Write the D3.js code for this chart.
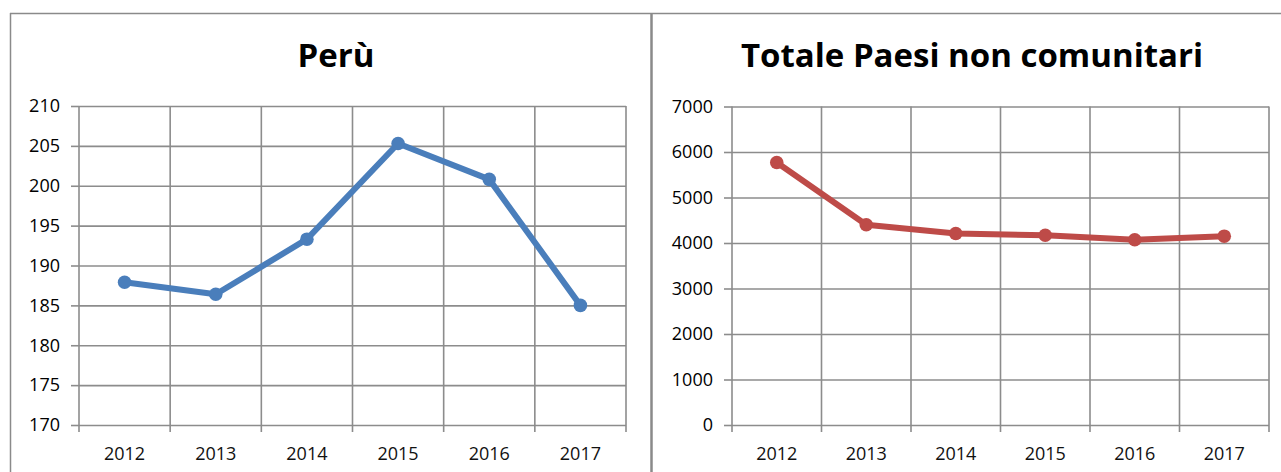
<!DOCTYPE html>
<html>
<head>
<meta charset="utf-8">
<script src="https://cdn.jsdelivr.net/npm/d3@7"></script>
<style>
  body { margin: 0; background: white; }
  text { font-family: "Open Sans", sans-serif; fill: #000; }
</style>
</head>
<body>
<script>
// data
var years = ["2012", "2013", "2014", "2015", "2016", "2017"]
var peru = [187.9, 186.4, 193.3, 205.3, 200.8, 185.0]
var totale = [5770, 4400, 4210, 4170, 4070, 4150]
var peruTicks = [170, 175, 180, 185, 190, 195, 200, 205, 210]
var totaleTicks = [0, 1000, 2000, 3000, 4000, 5000, 6000, 7000]

var svg = d3.select("body").append("svg")
  .attr("width", 1281).attr("height", 472)

// outer frame lines of the two panels
svg.append("line").attr("x1", 10).attr("x2", 1281).attr("y1", 13.5).attr("y2", 13.5)
  .attr("stroke", "#8a8a8a").attr("stroke-width", 1.5)
svg.append("line").attr("x1", 10.5).attr("x2", 10.5).attr("y1", 13).attr("y2", 472)
  .attr("stroke", "#8a8a8a").attr("stroke-width", 1.5)
svg.append("line").attr("x1", 651.5).attr("x2", 651.5).attr("y1", 13).attr("y2", 472)
  .attr("stroke", "#8a8a8a").attr("stroke-width", 2.5)

drawChart({
  title: "Perù", titleX: 336,
  left: 79, right: 626, top: 106, bottom: 425,
  domain: [170, 210], ticks: peruTicks, values: peru,
  color: "#4a7ebb"
})

drawChart({
  title: "Totale Paesi non comunitari", titleX: 972,
  left: 732, right: 1269, top: 106.5, bottom: 425,
  domain: [0, 7000], ticks: totaleTicks, values: totale,
  color: "#be4b48"
})

function drawChart(c) {
  var g = svg.append("g")

  var x = d3.scaleBand().domain(years).range([c.left, c.right])
  var y = d3.scaleLinear().domain(c.domain).range([c.bottom, c.top])

  g.append("text").text(c.title)
    .attr("x", c.titleX).attr("y", 67)
    .attr("text-anchor", "middle")
    .attr("font-size", 33).attr("font-weight", "bold")
    .style("fill", "#000")

  // horizontal grid + y labels
  var yAxis = d3.axisLeft(y).tickValues(c.ticks).tickFormat(d3.format("d"))
    .tickSize(8).tickPadding(11)
  var ya = g.append("g").attr("transform", "translate(" + c.left + ",0)").call(yAxis)
  ya.select(".domain").remove()
  ya.selectAll(".tick line").attr("stroke", "#8c8c8c").attr("stroke-width", 1.6)
  ya.selectAll(".tick").append("line")
    .attr("x1", 0).attr("x2", c.right - c.left)
    .attr("stroke", "#8c8c8c").attr("stroke-width", 1.6)
  ya.selectAll(".tick text").attr("font-size", 18)
    .style("font-family", "Open Sans").attr("fill", "#111")

  // vertical grid lines at band edges
  var edges = years.map(function(d) { return x(d) }).concat([c.right])
  g.selectAll(".vgrid").data(edges).enter().append("line")
    .attr("x1", function(d) { return d }).attr("x2", function(d) { return d })
    .attr("y1", c.top).attr("y2", c.bottom + 7)
    .attr("stroke", "#8c8c8c").attr("stroke-width", 1.6)

  // x labels
  g.selectAll(".xlab").data(years).enter().append("text")
    .text(function(d) { return d })
    .attr("x", function(d) { return x(d) + x.bandwidth() / 2 })
    .attr("y", 460)
    .attr("text-anchor", "middle")
    .attr("font-size", 18)
    .style("fill", "#111")

  var line = d3.line()
    .x(function(d, i) { return x(years[i]) + x.bandwidth() / 2 })
    .y(function(d) { return y(d) })

  g.append("path").datum(c.values).attr("d", line)
    .attr("fill", "none").attr("stroke", c.color)
    .attr("stroke-width", 6).attr("stroke-linejoin", "round")

  g.selectAll(".pt").data(c.values).enter().append("circle")
    .attr("cx", function(d, i) { return x(years[i]) + x.bandwidth() / 2 })
    .attr("cy", function(d) { return y(d) })
    .attr("r", 6.8).attr("fill", c.color)
}
</script>
</body>
</html>
